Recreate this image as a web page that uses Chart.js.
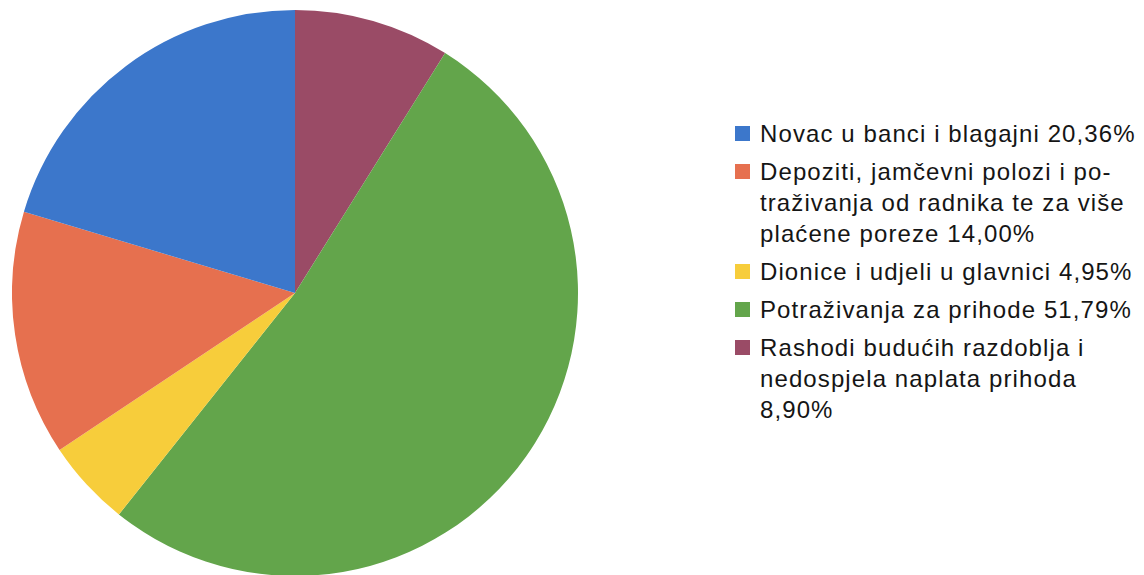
<!DOCTYPE html>
<html>
<head>
<meta charset="utf-8">
<script src="https://cdn.jsdelivr.net/npm/chart.js@4/dist/chart.umd.min.js"></script>
<style>
  html, body { margin: 0; padding: 0; background: #fff; overflow: hidden; }
  body { width: 1144px; height: 575px; position: relative; }
  #pieBox { position: absolute; left: 12px; top: 10px; width: 566px; height: 566px; }
  #legend { position: absolute; left: 735px; top: 118px; font-family: "Liberation Sans", Arial, sans-serif;
            font-size: 24px; line-height: 31px; letter-spacing: 1.1px; color: #151515; }
  .item { position: relative; padding-left: 25px; margin-bottom: 7px; white-space: nowrap; }
  .box { position: absolute; left: 0; top: 8px; width: 15px; height: 15px; }
</style>
</head>
<body>
<div id="pieBox"><canvas id="pieChart"></canvas></div>
<div id="legend"></div>
<script>
// legend order (the pie itself runs counter-clockwise from 12 o'clock)
const labels = [
  ["Novac u banci i blagajni 20,36%"],
  ["Depoziti, jamčevni polozi i po-", "traživanja od radnika te za više", "plaćene poreze 14,00%"],
  ["Dionice i udjeli u glavnici 4,95%"],
  ["Potraživanja za prihode 51,79%"],
  ["Rashodi budućih razdoblja i", "nedospjela naplata prihoda", "8,90%"]
];
const values = [20.36, 14.00, 4.95, 51.79, 8.90];
const colors = ["#3c77cb", "#e6704f", "#f7cd3b", "#63a54b", "#9a4b66"];

// Chart.js draws clockwise, so reverse to get the counter-clockwise order
const pieLabels = labels.map((l) => l.join(" ")).reverse();
const pieValues = values.slice().reverse();
const pieColors = colors.slice().reverse();

new Chart(document.getElementById("pieChart"), {
  type: "pie",
  data: {
    labels: pieLabels,
    datasets: [{
      data: pieValues,
      backgroundColor: pieColors,
      borderWidth: 0,
    }],
  },
  options: {
    responsive: true,
    maintainAspectRatio: false,
    animation: false,
    layout: { padding: 0 },
    plugins: {
      legend: { display: false },
      tooltip: { enabled: false },
    },
  },
});

const legend = document.getElementById("legend");
labels.forEach((lines, i) => {
  const item = document.createElement("div");
  item.className = "item";
  const box = document.createElement("span");
  box.className = "box";
  box.style.background = colors[i];
  item.appendChild(box);
  lines.forEach((line, j) => {
    if (j > 0) item.appendChild(document.createElement("br"));
    item.appendChild(document.createTextNode(line));
  });
  legend.appendChild(item);
});
</script>
</body>
</html>
